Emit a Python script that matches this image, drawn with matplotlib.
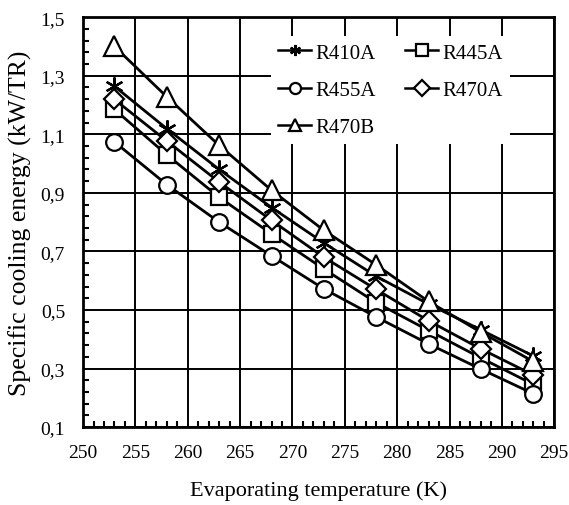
import numpy as np
import matplotlib.pyplot as plt
from matplotlib.ticker import FuncFormatter

# Data
temps = [253, 258, 263, 268, 273, 278, 283, 288, 293]
r410a = [1.264, 1.119, 0.98, 0.85, 0.729, 0.615, 0.52, 0.432, 0.343]
r445a = [1.185, 1.03, 0.885, 0.76, 0.64, 0.525, 0.43, 0.336, 0.246]
r455a = [1.074, 0.928, 0.80, 0.685, 0.572, 0.476, 0.384, 0.298, 0.214]
r470a = [1.219, 1.077, 0.937, 0.806, 0.68, 0.57, 0.463, 0.367, 0.278]
r470b = [1.40, 1.228, 1.062, 0.909, 0.772, 0.654, 0.529, 0.424, 0.324]

plt.rcParams['font.family'] = ['Liberation Serif', 'DejaVu Serif']

fig = plt.figure(figsize=(5.69, 5.06), dpi=100)
ax = fig.add_axes([0.146, 0.154, 0.828, 0.81])

common = dict(color='black', linewidth=2, markerfacecolor='white',
              markeredgecolor='black', markeredgewidth=1.6)
l1, = ax.plot(temps, r410a, marker=(6, 2, 0), markersize=13, label='R410A', **common)
l2, = ax.plot(temps, r445a, marker='s', markersize=11, label='R445A', **common)
l3, = ax.plot(temps, r455a, marker='o', markersize=12, label='R455A', **common)
l4, = ax.plot(temps, r470a, marker='D', markersize=10, label='R470A', **common)
l5, = ax.plot(temps, r470b, marker='^', markersize=14, label='R470B', **common)

ax.set_xlim(250, 295)
ax.set_ylim(0.1, 1.5)
ax.set_xticks(np.arange(250, 296, 5))
ax.set_xticks(np.arange(250, 296, 1), minor=True)
ax.set_yticks(np.arange(0.1, 1.51, 0.2))
ax.set_yticks(np.arange(0.1, 1.51, 0.04), minor=True)
ax.yaxis.set_major_formatter(FuncFormatter(lambda v, p: f"{v:.1f}".replace('.', ',')))

ax.grid(True, which='major', color='black', linewidth=1.4)
ax.set_axisbelow(True)
ax.tick_params(which='both', direction='in', labelsize=14)
ax.tick_params(axis='x', pad=12)
ax.tick_params(axis='y', pad=13)
ax.tick_params(which='major', length=0)
ax.tick_params(which='minor', length=4, width=1.5)
for s in ax.spines.values():
    s.set_linewidth(2)

ax.set_xlabel('Evaporating temperature (K)', fontsize=16, labelpad=14)
ax.set_ylabel('Specific cooling energy (kW/TR)', fontsize=18.5, labelpad=6)

leg = ax.legend(handles=[l1, l3, l5, l2, l4], ncol=2, loc='upper left',
                bbox_to_anchor=(0.398, 0.955), frameon=True, fancybox=False,
                framealpha=1, edgecolor='none', facecolor='white',
                fontsize=15, handlelength=1.6, handletextpad=0.2,
                columnspacing=1.4, labelspacing=0.85, borderpad=0.35,
                borderaxespad=0)
for h in leg.legend_handles:
    h.set_markersize(8)
    h.set_linewidth(1.8)

fig.savefig('out.png', dpi=100)
